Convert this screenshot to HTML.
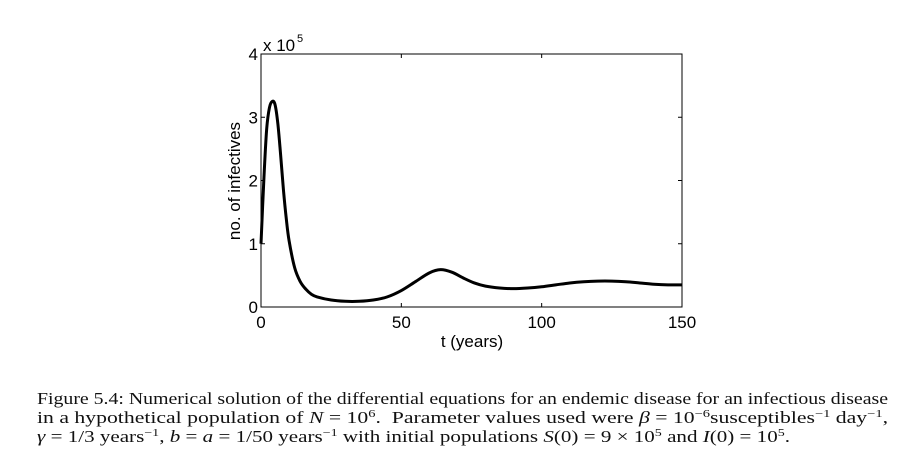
<!DOCTYPE html>
<html><head><meta charset="utf-8"><style>
body{margin:0;width:923px;height:464px;background:#fff;overflow:hidden;font-family:"Liberation Sans",sans-serif}
.cap{position:absolute;left:37px;font-family:"Liberation Serif",serif;font-size:16.5px;color:#111;white-space:nowrap;transform-origin:0 0;display:inline-block}
sup{font-size:11px;vertical-align:6px;line-height:0}
i{font-style:italic}
</style></head><body>
<svg width="923" height="380" style="position:absolute;left:0;top:0" id="svg"></svg>
<div class="cap" data-tw="851" style="top:389px">Figure 5.4: Numerical solution of the differential equations for an endemic disease for an infectious disease</div>
<div class="cap" data-tw="851" style="top:408px">in a hypothetical population of <i>N</i> = 10<sup>6</sup>. &nbsp;Parameter values used were <i>β</i> = 10<sup>−6</sup>susceptibles<sup>−1</sup> day<sup>−1</sup>,</div>
<div class="cap" data-tw="753" style="top:427px"><i>γ</i> = 1/3 years<sup>−1</sup>, <i>b</i> = <i>a</i> = 1/50 years<sup>−1</sup> with initial populations <i>S</i>(0) = 9 × 10<sup>5</sup> and <i>I</i>(0) = 10<sup>5</sup>.</div>
<script>
const tVals=[0,1,2,3,4,5,6,7,8,9,10,12,14,16,18,20,25,30,35,40,45,50,55,60,64,68,72,76,80,85,90,95,100,105,110,115,120,125,130,135,140,145,150];
const iVals=[1.0,2.0,2.8,3.15,3.25,3.2,2.9,2.4,1.85,1.4,1.05,0.62,0.4,0.28,0.2,0.16,0.11,0.09,0.09,0.11,0.16,0.26,0.4,0.54,0.59,0.55,0.46,0.38,0.33,0.30,0.29,0.30,0.32,0.35,0.38,0.40,0.41,0.41,0.40,0.38,0.36,0.35,0.35];
const xTicks=[0,50,100,150];
const yTicks=[0,1,2,3,4];
const L=261,R=682,T=54,B=307;
const X=v=>L+(v-0)/150*(R-L), Y=v=>B-v/4*(B-T);
const svg=document.getElementById('svg'),NS='http://www.w3.org/2000/svg';
function mk(tag,at,txt){const e=document.createElementNS(NS,tag);for(const k in at)e.setAttribute(k,at[k]);if(txt!=null)e.textContent=txt;svg.appendChild(e);return e;}
let r=mk('rect',{x:L,y:T,width:R-L,height:B-T,fill:'none',stroke:'#000','stroke-width':1});


xTicks.forEach(v=>{const x=X(v);
 let a=mk('line',{x1:x,x2:x,y1:B,y2:B-4,stroke:'#000'});
 let b=mk('line',{x1:x,x2:x,y1:T,y2:T+4,stroke:'#000'});
 let t=mk('text',{x:x,y:B+21,'text-anchor':'middle','font-size':17,fill:'#000'},v);});
yTicks.forEach(v=>{const y=Y(v);
 let a=mk('line',{x1:L,x2:L+4,y1:y,y2:y,stroke:'#000'});
 let b=mk('line',{x1:R,x2:R-4,y1:y,y2:y,stroke:'#000'});
 let t=mk('text',{x:L-3,y:y+6,'text-anchor':'end','font-size':17,fill:'#000'},v);});
let ex=mk('text',{x:263,y:51,'font-size':17,fill:'#000'},'x 10');
let e5=mk('text',{x:297,y:42,'font-size':11,fill:'#000'},'5');
let xl=mk('text',{x:472,y:347,'text-anchor':'middle','font-size':17,fill:'#000'},'t (years)');
let yl=mk('text',{x:0,y:0,'text-anchor':'middle','font-size':17,fill:'#000',transform:'translate(240,181) rotate(-90)'},'no. of infectives');
const pts=tVals.map((t,i)=>[X(t),Y(iVals[i])]);
let d='M'+pts[0][0]+','+pts[0][1];
for(let i=0;i<pts.length-1;i++){
 const p0=pts[Math.max(0,i-1)],p1=pts[i],p2=pts[i+1],p3=pts[Math.min(pts.length-1,i+2)];
 const c1=[p1[0]+(p2[0]-p0[0])/6,p1[1]+(p2[1]-p0[1])/6],c2=[p2[0]-(p3[0]-p1[0])/6,p2[1]-(p3[1]-p1[1])/6];
 d+='C'+c1.map(v=>v.toFixed(2))+' '+c2.map(v=>v.toFixed(2))+' '+p2.map(v=>v.toFixed(2));
}
let p=mk('path',{d:d,fill:'none',stroke:'#000','stroke-width':3,'stroke-linejoin':'round'});


document.querySelectorAll('.cap').forEach(el=>{const w=el.getBoundingClientRect().width;el.style.transform='scaleX('+(+el.dataset.tw/w)+')';});
</script>
</body></html>
